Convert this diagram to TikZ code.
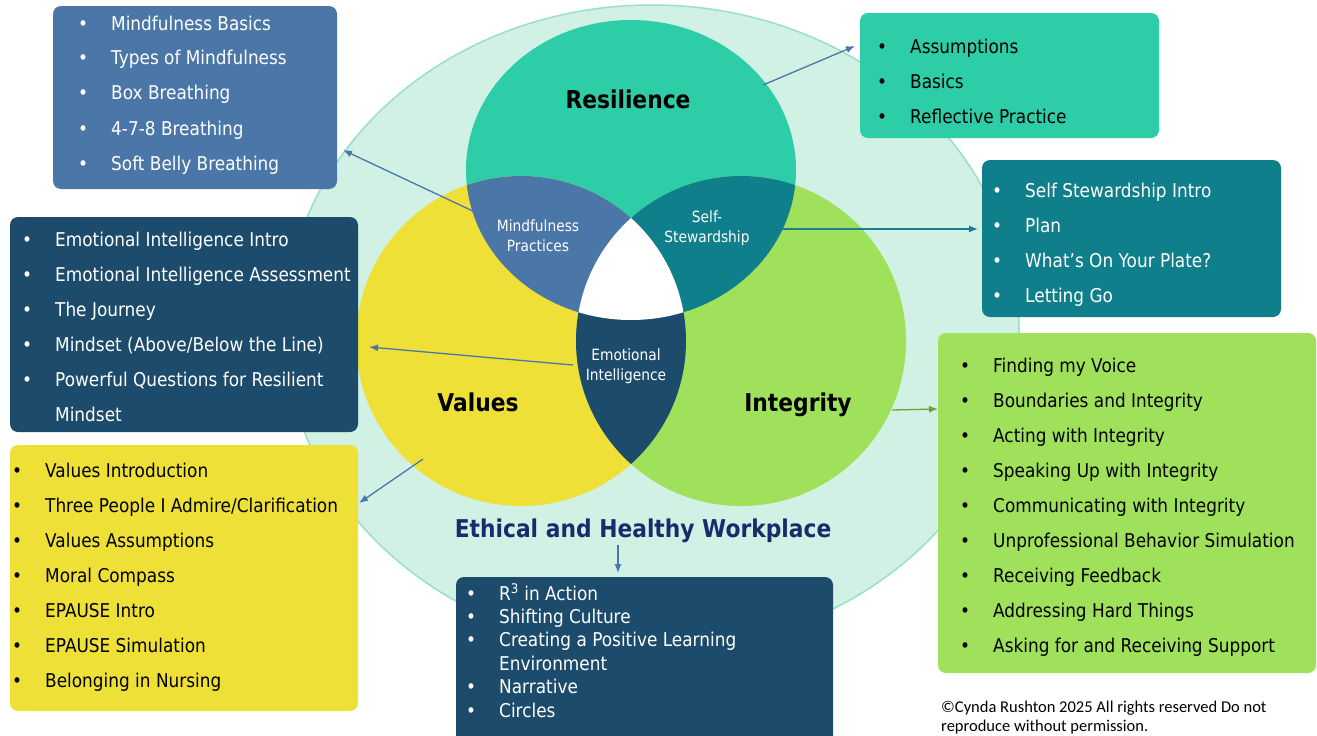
\documentclass[tikz,border=0pt]{standalone}
\usepackage{fontspec}
\setmainfont{DejaVu Sans}[FakeStretch=0.89]
\newfontfamily\cfont{Carlito}
\usetikzlibrary{arrows.meta}
\definecolor{bgm}{HTML}{D0F1E3}
\definecolor{bgline}{HTML}{9ADFC6}
\definecolor{resc}{HTML}{2DCEA7}
\definecolor{valc}{HTML}{EEE036}
\definecolor{intc}{HTML}{9FE15B}
\definecolor{mfc}{HTML}{4A77A8}
\definecolor{ssc}{HTML}{0F7F8C}
\definecolor{eic}{HTML}{1C4B6B}
\definecolor{wpt}{HTML}{172C6C}
\definecolor{arrb}{HTML}{4A76B0}
\definecolor{arrt}{HTML}{1F7A95}
\definecolor{arrg}{HTML}{6AA33A}
\newcommand\listfnt{\fontsize{19}{35}\selectfont}
\newcommand\listfntw{\fontsize{19}{23.4}\selectfont}
\newcommand\bu{\makebox[33pt][l]{\textbullet}}
\newcommand\nb{\makebox[33pt][l]{}}
\tikzset{
  box/.style={rounded corners=8pt, anchor=north west, inner sep=0pt, outer sep=0pt},
  ltext/.style={anchor=base west, inner sep=0pt, font=\listfnt},
  conn/.style={line width=1.3pt, draw=arrb, -{Latex[length=9pt,width=7pt]}},
  lens/.style={font=\fontsize{15.5}{20}\selectfont, text=white, align=center, inner sep=0pt},
  title/.style={font=\fontsize{24.5}{28}\selectfont\bfseries, inner sep=0pt, anchor=base}
}
\begin{document}
\begin{tikzpicture}[x=1pt,y=-1pt]
\useasboundingbox (0,0) rectangle (1317,736);
\fill[white] (0,0) rectangle (1317,736);
% background ellipse
\coordinate (cBg) at (652,328);
\filldraw[fill=bgm, draw=bgline, line width=1.5pt] (cBg) ellipse[x radius=367pt, y radius=323pt];
% Venn
\coordinate (cRes) at (631,170);
\coordinate (cVal) at (521,341);
\coordinate (cInt) at (741,341);
\fill[resc] (cRes) ellipse[x radius=165pt, y radius=150pt];
\fill[valc] (cVal) circle[radius=165pt];
\fill[intc] (cInt) circle[radius=165pt];
\begin{scope}
  \clip (cRes) ellipse[x radius=165pt, y radius=150pt];
  \fill[mfc] (cVal) circle[radius=165pt];
  \fill[ssc] (cInt) circle[radius=165pt];
\end{scope}
\begin{scope}
  \clip (cVal) circle[radius=165pt];
  \fill[eic] (cInt) circle[radius=165pt];
\end{scope}
\begin{scope}
  \clip (cRes) ellipse[x radius=165pt, y radius=150pt];
  \clip (cVal) circle[radius=165pt];
  \fill[white] (cInt) circle[radius=165pt];
\end{scope}
% Venn labels
\node[title] (tRes) at (628,108) {Resilience};
\node[title] (tVal) at (478,411) {Values};
\node[title] (tInt) at (798,411) {Integrity};
\node[lens] (lMf) at (538,236) {Mindfulness\\Practices};
\node[lens] (lSs) at (707,228) {Self-\\Stewardship};
\node[lens] (lEi) at (626,366) {Emotional\\Intelligence};
\node[title, text=wpt] (tWp) at (643,537) {Ethical and Healthy Workplace};
% boxes
\node[box, fill=mfc, minimum width=284pt, minimum height=183pt] (bMf) at (53,6) {};
\node[box, fill=resc, minimum width=299pt, minimum height=125pt] (bRes) at (860,13) {};
\node[box, fill=ssc, minimum width=299pt, minimum height=157pt] (bSs) at (982,160) {};
\node[box, fill=eic, minimum width=348pt, minimum height=215pt] (bEi) at (10,217) {};
\node[box, fill=valc, minimum width=348pt, minimum height=266pt] (bVal) at (10,445) {};
\node[box, fill=intc, minimum width=378pt, minimum height=340pt] (bInt) at (938,333) {};
\node[box, fill=eic, minimum width=377pt, minimum height=190pt] (bWp) at (456,577) {};
% box texts
\node[ltext, text=white] (xMf) at (78,30) {\begin{tabular}[t]{@{}l@{}}
\bu Mindfulness Basics\\ \bu Types of Mindfulness\\ \bu Box Breathing\\ \bu 4-7-8 Breathing\\ \bu Soft Belly Breathing\end{tabular}};
\node[ltext, text=black] (xRes) at (877,53) {\begin{tabular}[t]{@{}l@{}}
\bu Assumptions\\ \bu Basics\\ \bu Reflective Practice\end{tabular}};
\node[ltext, text=white] (xSs) at (992,197) {\begin{tabular}[t]{@{}l@{}}
\bu Self Stewardship Intro\\ \bu Plan\\ \bu What’s On Your Plate?\\ \bu Letting Go\end{tabular}};
\node[ltext, text=white] (xEi) at (22,246) {\begin{tabular}[t]{@{}l@{}}
\bu Emotional Intelligence Intro\\ \bu Emotional Intelligence Assessment\\ \bu The Journey\\ \bu Mindset (Above/Below the Line)\\ \bu Powerful Questions for Resilient\\ \nb Mindset\end{tabular}};
\node[ltext, text=black] (xVal) at (12,477) {\begin{tabular}[t]{@{}l@{}}
\bu Values Introduction\\ \bu Three People I Admire/Clarification\\ \bu Values Assumptions\\ \bu Moral Compass\\ \bu EPAUSE Intro\\ \bu EPAUSE Simulation\\ \bu Belonging in Nursing\end{tabular}};
\node[ltext, text=black] (xInt) at (960,372) {\begin{tabular}[t]{@{}l@{}}
\bu Finding my Voice\\ \bu Boundaries and Integrity\\ \bu Acting with Integrity\\ \bu Speaking Up with Integrity\\ \bu Communicating with Integrity\\ \bu Unprofessional Behavior Simulation\\ \bu Receiving Feedback\\ \bu Addressing Hard Things\\ \bu Asking for and Receiving Support\end{tabular}};
\node[ltext, text=white, font=\listfntw] (xWp) at (466,600) {\begin{tabular}[t]{@{}l@{}}
\bu R\textsuperscript{3} in Action\\ \bu Shifting Culture\\ \bu Creating a Positive Learning\\ \nb Environment\\ \bu Narrative\\ \bu Circles\end{tabular}};
% copyright
\node[anchor=base west, inner sep=0pt, font=\cfont\fontsize{16.5}{19}\selectfont, align=left] (copy) at (941,731) {©Cynda Rushton 2025 All rights reserved Do not\\reproduce without permission.};
% connectors
\coordinate (aMf) at (477,213); \coordinate (eMf) at (343,150);
\coordinate (aRes) at (763,85); \coordinate (eRes) at (855,46);
\coordinate (aSs) at (778,229); \coordinate (eSs) at (978,229);
\coordinate (aEi) at (573,365); \coordinate (eEi) at (369,347);
\coordinate (aVal) at (423,459); \coordinate (eVal) at (359,503);
\coordinate (aInt) at (892,410); \coordinate (eInt) at (938,409);
\coordinate (aWp) at (618,545); \coordinate (eWp) at (618,573);
\draw[conn] (aMf) -- (eMf);
\draw[conn] (aRes) -- (eRes);
\draw[conn, draw=arrt] (aSs) -- (eSs);
\draw[conn] (aEi) -- (eEi);
\draw[conn] (aVal) -- (eVal);
\draw[conn, draw=arrg] (aInt) -- (eInt);
\draw[conn] (aWp) -- (eWp);
\end{tikzpicture}
\end{document}
